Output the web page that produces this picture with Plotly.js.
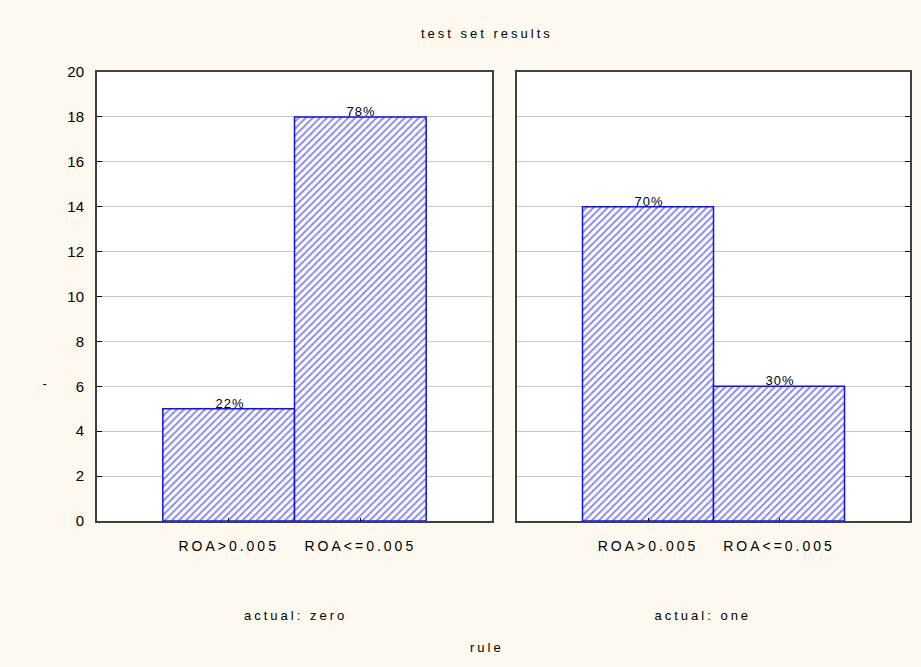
<!DOCTYPE html>
<html>
<head>
<meta charset="utf-8">
<script src="https://cdn.plot.ly/plotly-3.0.1.min.js"></script>
<style>
html,body{margin:0;padding:0;background:#FEF9EE;}
#chart{width:921px;height:667px;}
#chart g.annotation text{letter-spacing:3px;}
#chart g.annotation[data-index="0"] text,
#chart g.annotation[data-index="1"] text,
#chart g.annotation[data-index="2"] text,
#chart g.annotation[data-index="3"] text{letter-spacing:1px;}
#chart g.xtick text, #chart g.x2tick text{letter-spacing:3px;}
</style>
</head>
<body>
<div id="chart"></div>
<script>
const categories = ['ROA>0.005', 'ROA<=0.005'];
const groups = ['actual: zero', 'actual: one'];
const countsZero = [5, 18];
const countsOne = [14, 6];
const pctZero = ['22%', '78%'];
const pctOne = ['70%', '30%'];
const chartTitle = 'test set results';
const xTitle = 'rule';
const yTitle = '-';

const FONT = 'Liberation Sans, Arial, sans-serif';
const blue = '#1010F0';

function barTrace(y, xa, ya) {
  return {
    type: 'bar', x: categories, y: y, xaxis: xa, yaxis: ya,
    width: 1,
    marker: {
      color: 'white',
      line: {color: blue, width: 1.5},
      pattern: {shape: '/', fgcolor: blue, bgcolor: 'white', size: 5, solidity: 0.4, fillmode: 'overlay'}
    },
    hoverinfo: 'skip', showlegend: false
  };
}

const data = [barTrace(countsZero, 'x', 'y'), barTrace(countsOne, 'x2', 'y2')];

const annotations = [];
function addPct(vals, pcts, xref, yref) {
  for (let i = 0; i < vals.length; i++) {
    annotations.push({x: categories[i], y: vals[i], xref: xref, yref: yref, text: pcts[i],
      showarrow: false, xanchor: 'center', yanchor: 'bottom', yshift: -4, xshift: 1,
      font: {family: FONT, size: 13, color: '#000'}});
  }
}
addPct(countsZero, pctZero, 'x', 'y');
addPct(countsOne, pctOne, 'x2', 'y2');
function paperText(text, px, py, size) {
  annotations.push({x: px/921, y: 1 - py/667, xref: 'paper', yref: 'paper', text: text, showarrow: false,
    xanchor: 'center', yanchor: 'middle', font: {family: FONT, size: size, color: '#000'}});
}
paperText(groups[0], 295, 615, 13);
paperText(groups[1], 703, 615, 13);
paperText(xTitle, 487, 647, 13);
paperText(yTitle, 46, 384, 13);
paperText(chartTitle, 487, 33, 13);

const xCommon = {
  type: 'category', range: [-1, 2], showgrid: false, zeroline: false,
  showline: true, linecolor: '#404040', linewidth: 2, mirror: true,
  ticks: 'inside', ticklen: 3, tickcolor: '#000',
  ticklabelstandoff: 11,
  tickfont: {family: FONT, size: 14, color: '#000'}, fixedrange: true
};
const yCommon = {
  range: [0, 20], dtick: 2, tick0: 0, showgrid: true, gridcolor: '#C8C8C8', gridwidth: 1,
  zeroline: false, showline: true, linecolor: '#404040', linewidth: 2, mirror: true,
  ticks: 'inside', ticklen: 5, tickcolor: '#000',
  tickfont: {family: FONT, size: 15, color: '#000'}, fixedrange: true
};

const yDom = [1 - 521/667, 1 - 72/667];
const layout = {
  width: 921, height: 667,
  margin: {l: 0, r: 0, t: 0, b: 0},
  paper_bgcolor: '#FEF9EE', plot_bgcolor: 'white',
  bargap: 0,
  xaxis: Object.assign({}, xCommon, {domain: [97/921, 492/921], anchor: 'y'}),
  xaxis2: Object.assign({}, xCommon, {domain: [517/921, 910/921], anchor: 'y2'}),
  yaxis: Object.assign({}, yCommon, {domain: yDom, anchor: 'x', ticklabelstandoff: 8}),
  yaxis2: Object.assign({}, yCommon, {domain: yDom, anchor: 'x2', side: 'right', showticklabels: false}),
  annotations: annotations,
  font: {family: FONT, color: '#000'}
};

Plotly.newPlot('chart', data, layout, {displayModeBar: false, staticPlot: true});
</script>
</body>
</html>
